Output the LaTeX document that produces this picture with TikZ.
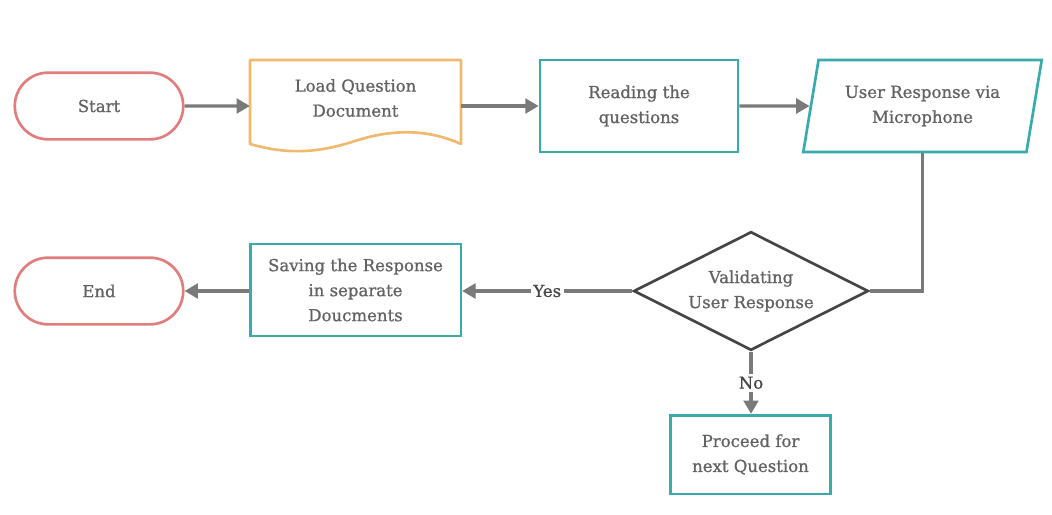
\documentclass[tikz,border=0pt]{standalone}
\usepackage{fontspec}
\setmainfont{DejaVu Serif}[FakeBold=0.9]
\usetikzlibrary{shapes.geometric,shapes.misc,arrows.meta}
\definecolor{cred}{HTML}{E27D7D}
\definecolor{corange}{HTML}{F0BA6E}
\definecolor{cteal}{HTML}{3AABAB}
\definecolor{carrow}{HTML}{7A7A7A}
\definecolor{ctext}{HTML}{626262}
\definecolor{cdia}{HTML}{454545}
\begin{document}
\begin{tikzpicture}[x=0.75pt,y=-0.75pt,
  every node/.style={font=\fontsize{12.4}{18.75}\selectfont, text=ctext, align=center},
  term/.style={rounded rectangle, draw=cred, line width=2pt, minimum width=133pt, minimum height=50pt},
  procbox/.style={rectangle, draw=cteal, line width=2pt, inner sep=2pt},
  conn/.style={draw=carrow, line width=2.4pt, -{Triangle[length=10pt,width=11pt]}},
  plain/.style={draw=carrow, line width=2.4pt},
  lbl/.style={fill=white, inner sep=2pt, text=cdia}
]
\useasboundingbox (0,0) rectangle (1052,514);
\fill[white] (0,0) rectangle (1052,514);

\node[term] (start) at (99,106) {Start};
% document shape
\node[minimum width=158pt, minimum height=66pt, inner sep=0pt] (load) at (355.5,104) {};
\draw[corange, line width=2pt, line join=round]
  (250,60) -- (461,60) -- (461,144)
  .. controls (430,130) and (395,128) .. (355,141)
  .. controls (315,154) and (285,154) .. (250,144) -- cycle;
\node (loadtxt) at (355.5,98) {Load Question\\Document};

\node[procbox, minimum width=148.5pt, minimum height=69pt] (read) at (639,106) {Reading the\\questions};
\node[trapezium, trapezium left angle=75, trapezium right angle=105, trapezium stretches=true,
      draw=cteal, line width=2pt, minimum width=179pt, minimum height=69pt, inner sep=1pt] (user) at (922.5,106) {User Response via\\Microphone};

\node[diamond, aspect=2, draw=cdia, line width=2pt, minimum width=176pt, minimum height=89pt, inner sep=0pt, text=ctext] (dec) at (751,291) {Validating\\User Response};

\node[procbox, minimum width=158pt, minimum height=69pt] (save) at (355.5,290) {Saving the Response\\in separate\\Doucments};
\node[term] (end) at (99,291) {End};
\node[procbox, minimum width=120pt, minimum height=59pt] (next) at (750.5,454.5) {Proceed for\\next Question};

\draw[conn] (start) -- (load.west |- start);
\draw[conn] (load.east |- read) -- (read.west);
\draw[conn] (read.east) -- (user);
\draw[plain] (user.south) |- (dec.east);
\draw[conn] (dec.west) -- node[lbl] (yes) {Yes} (save.east |- dec.west);
\draw[conn] (save.west |- end) -- (end.east);
\draw[conn] (dec.south) -- node[lbl] (no) {No} (dec.south |- next.north);
\end{tikzpicture}
\end{document}
